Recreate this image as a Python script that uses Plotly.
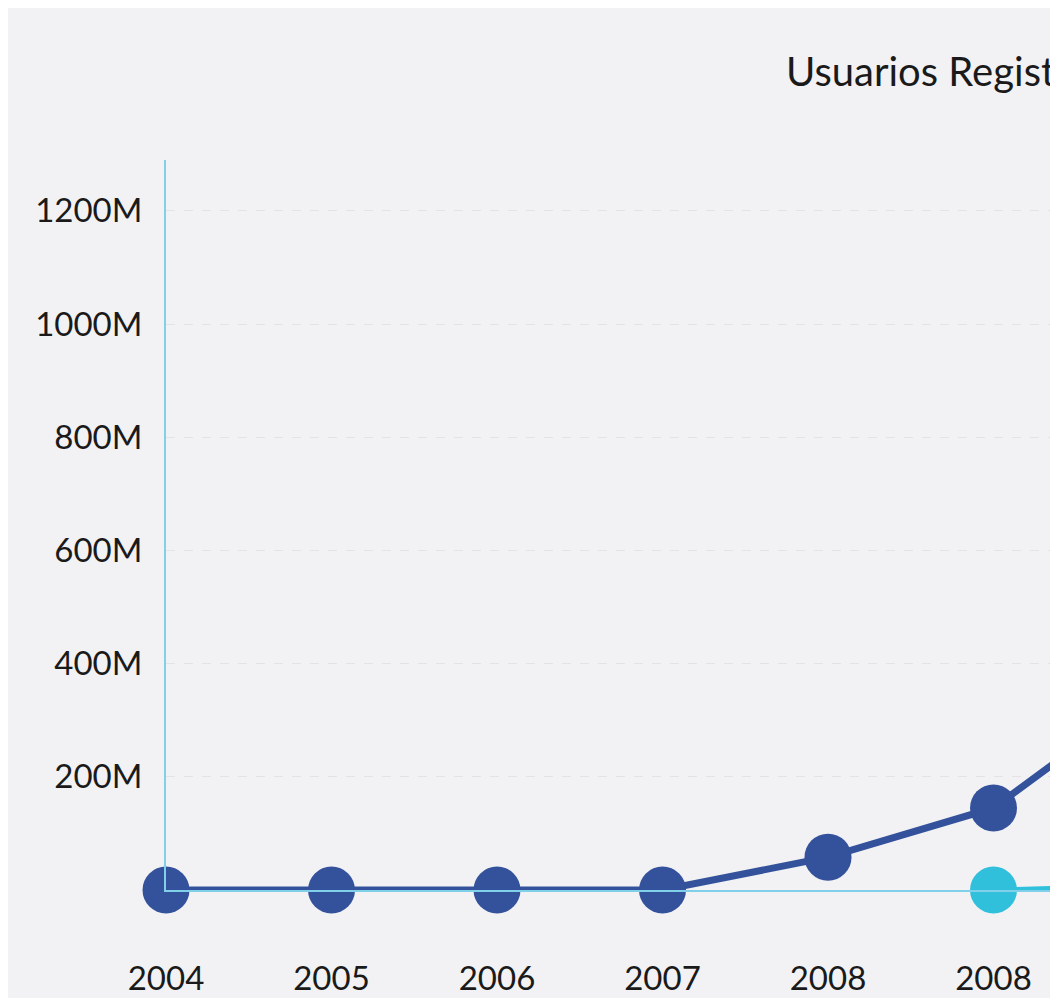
import plotly.graph_objects as go

# Data
categories = ["2004", "2005", "2006", "2007", "2008", "2008", "2009"]
usuarios_a = [0, 0, 0, 0, 58, 145, 360]          # dark blue series (millions)
usuarios_b = [None, None, None, None, None, 0, 8]  # cyan series (millions)
y_tickvals = [200, 400, 600, 800, 1000, 1200]
y_ticktext = ["200M", "400M", "600M", "800M", "1000M", "1200M"]

xs = list(range(len(categories)))

DARK = "#34529b"
CYAN = "#30c0dc"
AXIS = "#7fd0e8"
BG = "#f2f2f4"
FONT = "Lato"

fig = go.Figure()
fig.add_trace(go.Scatter(
    x=xs, y=usuarios_b, mode="lines+markers",
    line=dict(color=CYAN, width=5),
    marker=dict(size=47, color=CYAN),
    hoverinfo="skip", connectgaps=False, cliponaxis=False,
))
fig.add_trace(go.Scatter(
    x=xs, y=usuarios_a, mode="lines+markers",
    line=dict(color=DARK, width=7),
    marker=dict(size=47, color=DARK),
    hoverinfo="skip", cliponaxis=False,
))

W, H = 1042, 990
fig.update_layout(
    width=W, height=H,
    paper_bgcolor=BG, plot_bgcolor=BG,
    showlegend=False,
    margin=dict(l=158, r=0, t=152, b=108, autoexpand=False),
    font=dict(family=FONT, color="#1a1a1a", size=33),
    title=dict(
        text="Usuarios Registrados",
        x=778 / W, xref="container", xanchor="left",
        y=1 - 64 / H, yref="container", yanchor="middle",
        font=dict(family=FONT, size=40, color="#1a1a1a"),
    ),
)
fig.update_xaxes(
    range=[0, 884 / 165.5], automargin=False,
    tickvals=xs, ticktext=categories,
    showgrid=False, zeroline=False,
    showline=True, linecolor=AXIS, linewidth=2,
    ticks="", ticklabelstandoff=58,
    tickfont=dict(family=FONT, size=33, color="#1a1a1a"),
)
fig.update_yaxes(
    range=[0, 1290], automargin=False,
    tickvals=y_tickvals, ticktext=y_ticktext,
    showgrid=True, gridcolor="#e3e3e6", gridwidth=1, griddash="dash",
    zeroline=False,
    showline=True, linecolor=AXIS, linewidth=2,
    ticks="", ticklabelstandoff=15,
    tickfont=dict(family=FONT, size=33, color="#1a1a1a"),
)

fig.write_html("out.html")
